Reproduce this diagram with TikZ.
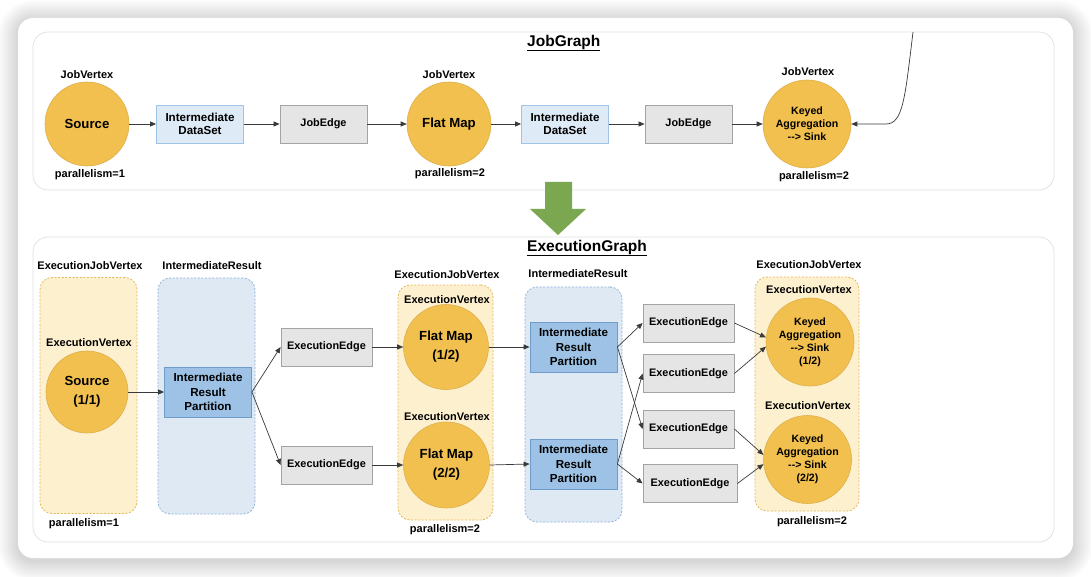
\documentclass[tikz,border=0pt]{standalone}
\usepackage{fontspec}
\setmainfont{Liberation Sans}
\usetikzlibrary{arrows.meta}

\definecolor{vertexfill}{HTML}{F2C04E}
\definecolor{vertexline}{HTML}{DDB04C}
\definecolor{groupfill}{HTML}{FDF0CF}
\definecolor{groupline}{HTML}{E6B85A}
\definecolor{resultfill}{HTML}{DFE9F4}
\definecolor{resultline}{HTML}{8DB3DB}
\definecolor{partfill}{HTML}{9DC2E5}
\definecolor{partline}{HTML}{6E9DCB}
\definecolor{setfill}{HTML}{DEEAF6}
\definecolor{setline}{HTML}{9EC4E8}
\definecolor{edgefill}{HTML}{E5E5E5}
\definecolor{edgeline}{HTML}{A3A3A3}
\definecolor{panelline}{HTML}{E0E0E0}
\definecolor{flowgreen}{HTML}{7BA750}
\definecolor{wire}{HTML}{3A3A3A}

\tikzset{
  vertex/.style={circle, fill=vertexfill, draw=vertexline, line width=0.6pt,
    minimum size=#1, inner sep=0pt, align=center,
    font=\bfseries\fontsize{13.2}{19}\selectfont},
  vertex/.default=84pt,
  keyed/.style={vertex=88pt, font=\bfseries\fontsize{10.6}{13}\selectfont},
  box/.style={rectangle, minimum width=87pt, minimum height=38pt, inner sep=0pt,
    align=center, line width=0.8pt},
  dsbox/.style={box, fill=setfill, draw=setline,
    font=\bfseries\fontsize{11.6}{13.7}\selectfont},
  edgebox/.style={box, minimum width=91pt, fill=edgefill, draw=edgeline,
    font=\bfseries\fontsize{10.9}{13}\selectfont},
  partbox/.style={box, minimum height=50pt, fill=partfill, draw=partline,
    font=\bfseries\fontsize{11.6}{14.7}\selectfont},
  vgroup/.style={rectangle, rounded corners=12pt, fill=groupfill, draw=groupline,
    dash pattern=on 2pt off 1.6pt, line width=0.8pt, inner sep=0pt},
  rgroup/.style={rectangle, rounded corners=12pt, fill=resultfill, draw=resultline,
    dash pattern=on 2pt off 1.6pt, line width=0.8pt, inner sep=0pt},
  tag/.style={inner sep=0pt, font=\bfseries\fontsize{11}{13}\selectfont},
  heading/.style={inner sep=0pt, anchor=west, font=\bfseries\fontsize{15.5}{18}\selectfont},
  panel/.style={rounded corners=15pt, draw=panelline, line width=0.7pt, fill=white},
  flow/.style={-{Triangle[length=6pt,width=5pt]}, draw=wire, line width=0.7pt},
}

\begin{document}
\begin{tikzpicture}[x=1pt, y=-1pt]
  % canvas and the white card with its soft shadow
  \fill[white] (0,0) rectangle (1091,577);
  \useasboundingbox (0,0) rectangle (1091,577);
  \foreach \r in {1,...,20}{
    \fill[black, opacity=0.008, rounded corners={15pt+\r pt}]
      ({18-\r},{20-\r}) rectangle ({1073+\r},{561+\r});
  }
  \fill[white, rounded corners=15pt] (18,18) rectangle (1073,558);

  % ---------------- JobGraph ----------------
  \draw[panel] (33,32) rectangle (1054,190);
  \node[heading] (jgtitle) at (527,43) {\underline{JobGraph}};

  \node[vertex] (src) at (87,124) {Source};
  \node[dsbox] (ds1) at (200,124) {Intermediate\\DataSet};
  \node[edgebox, minimum width=87pt] (je1) at (323.5,124) {JobEdge};
  \node[vertex] (fm) at (449,124) {Flat Map};
  \node[dsbox] (ds2) at (565,124) {Intermediate\\DataSet};
  \node[edgebox, minimum width=87pt] (je2) at (688.5,124) {JobEdge};
  \node[keyed] (ka) at (807,124) {Keyed\\Aggregation\\-{}-> Sink};

  \node[tag] (jv1) at (87,75) {JobVertex};
  \node[tag] (jv2) at (449,75) {JobVertex};
  \node[tag] (jv3) at (808,72) {JobVertex};
  \node[tag] (jp1) at (90,175) {parallelism=1};
  \node[tag] (jp2) at (450,174) {parallelism=2};
  \node[tag] (jp3) at (814,177) {parallelism=2};

  \draw[flow] (src.east) -- (ds1.west);
  \draw[flow] (ds1.east) -- (je1.west);
  \draw[flow] (je1.east) -- (fm.west);
  \draw[flow] (fm.east) -- (ds2.west);
  \draw[flow] (ds2.east) -- (je2.west);
  \draw[flow] (je2.east) -- (ka.west);
  \coordinate (feed) at (913,32);
  \draw[flow] (feed) .. controls (905,98) and (903,124) .. (886,124) -- (ka.east);

  % transition arrow
  \fill[flowgreen] (545,182) -- (572,182) -- (572,209) -- (586,209) -- (558,235)
    -- (530,209) -- (545,209) -- cycle;

  % ---------------- ExecutionGraph ----------------
  \draw[panel] (33,237) rectangle (1054,542);
  \node[heading] (egtitle) at (527,248) {\underline{ExecutionGraph}};

  % groups
  \node[vgroup, minimum width=97pt, minimum height=236pt] (g1) at (88.5,395.5) {};
  \node[rgroup, minimum width=97pt, minimum height=236pt] (r1) at (206.5,396) {};
  \node[vgroup, minimum width=95pt, minimum height=235pt] (g2) at (445.5,402.5) {};
  \node[rgroup, minimum width=97pt, minimum height=235pt] (r2) at (573.5,404.5) {};
  \node[vgroup, minimum width=104pt, minimum height=234pt] (g3) at (807,394) {};

  \node[tag] (ejv1) at (90,266) {ExecutionJobVertex};
  \node[tag] (ir1) at (212,266) {IntermediateResult};
  \node[tag] (ejv2) at (447,275) {ExecutionJobVertex};
  \node[tag] (ir2) at (578,274) {IntermediateResult};
  \node[tag] (ejv3) at (809,265) {ExecutionJobVertex};

  \node[tag] (ev1) at (89,343) {ExecutionVertex};
  \node[tag] (ev2) at (447,300) {ExecutionVertex};
  \node[tag] (ev3) at (447,417) {ExecutionVertex};
  \node[tag] (ev4) at (809,290) {ExecutionVertex};
  \node[tag] (ev5) at (808,406) {ExecutionVertex};

  \node[tag] (ep1) at (84,524) {parallelism=1};
  \node[tag] (ep2) at (445,530) {parallelism=2};
  \node[tag] (ep3) at (812,522) {parallelism=2};

  % vertices, partitions and edges
  \node[vertex=82pt] (s1) at (87,392) {Source\\(1/1)};
  \node[partbox] (p1) at (208,392) {Intermediate\\Result\\Partition};
  \node[edgebox] (x1) at (326.5,347) {ExecutionEdge};
  \node[edgebox] (x2) at (326.5,465) {ExecutionEdge};
  \node[vertex=85pt] (f1) at (446,347) {Flat Map\\(1/2)};
  \node[vertex=86pt] (f2) at (446.5,465) {Flat Map\\(2/2)};
  \node[partbox] (p2) at (573.5,347) {Intermediate\\Result\\Partition};
  \node[partbox] (p3) at (573.5,464) {Intermediate\\Result\\Partition};
  \node[edgebox] (y1) at (688.5,323) {ExecutionEdge};
  \node[edgebox] (y2) at (688.5,373.5) {ExecutionEdge};
  \node[edgebox] (y3) at (688.5,429) {ExecutionEdge};
  \node[edgebox, minimum width=94pt] (y4) at (690,483.5) {ExecutionEdge};
  \node[keyed] (k1) at (810,342) {Keyed\\Aggregation\\-{}-> Sink\\(1/2)};
  \node[keyed, minimum size=88pt] (k2) at (807.5,459.5) {Keyed\\Aggregation\\-{}-> Sink\\(2/2)};

  \draw[flow] (s1.east) -- (p1.west);
  \draw[flow] (p1.east) -- (x1.west);
  \draw[flow] (p1.east) -- (x2.west);
  \draw[flow] (x1.east) -- (f1.west);
  \draw[flow] (x2.east) -- (f2.west);
  \draw[flow] (f1.east) -- (p2.west);
  \draw[flow] (f2.east) -- (p3.west);
  \draw[flow] (p2.east) -- (y1.west);
  \draw[flow] (p2.east) -- (y3.west);
  \draw[flow] (p3.east) -- (y2.west);
  \draw[flow] (p3.east) -- (y4.west);
  \draw[flow] (y1.east) -- (k1.174);
  \draw[flow] (y2.east) -- (k1.186);
  \draw[flow] (y3.east) -- (k2.174);
  \draw[flow] (y4.east) -- (k2.186);
\end{tikzpicture}
\end{document}
